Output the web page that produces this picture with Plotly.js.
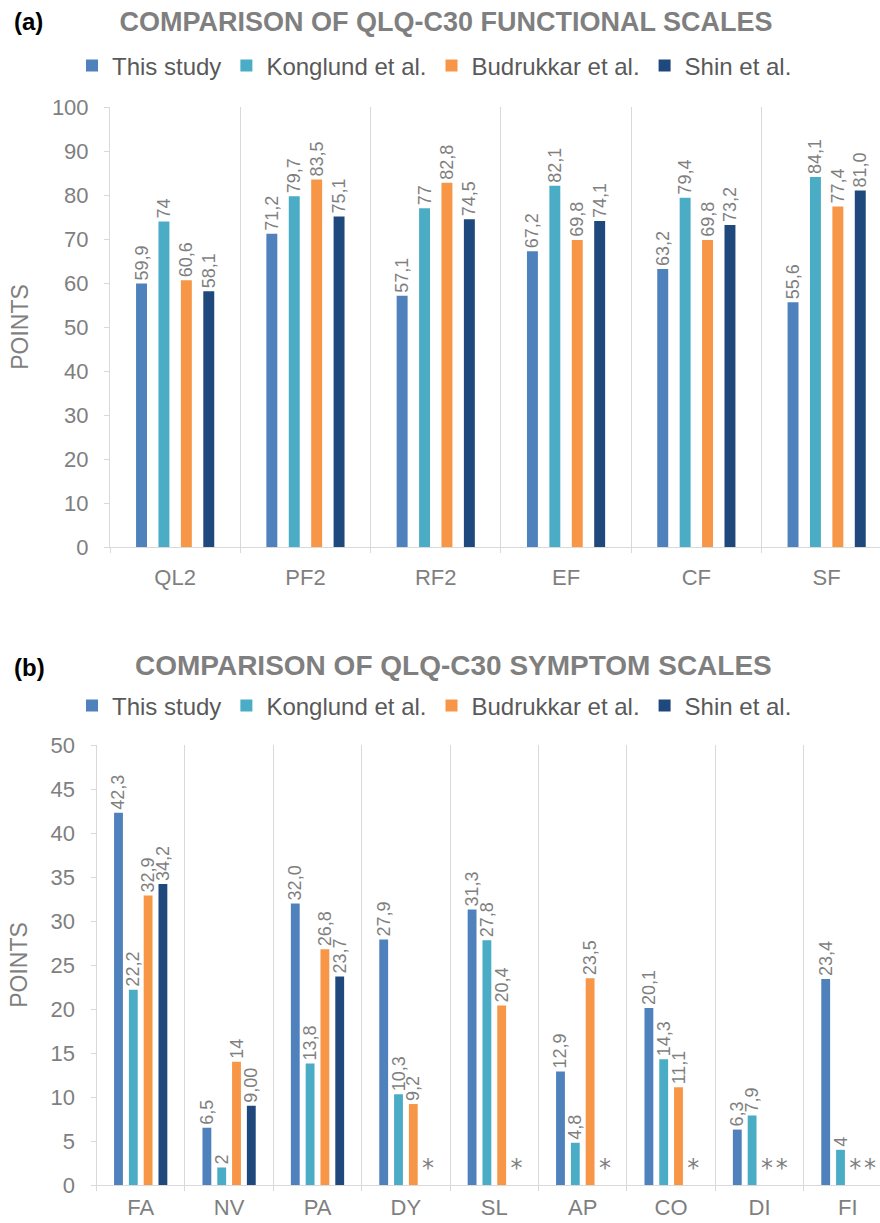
<!DOCTYPE html>
<html>
<head>
<meta charset="utf-8">
<script src="https://cdn.plot.ly/plotly-3.0.1.min.js"></script>
<style>
  html, body { margin: 0; padding: 0; background: #ffffff; }
  #chart { width: 880px; height: 1223px; }
</style>
</head>
<body>
<div id="chart"></div>
<script>
// ---------------- DATA ----------------
const seriesNames = ["This study", "Konglund et al.", "Budrukkar et al.", "Shin et al."];

// (a) functional scales
const catsA = ["QL2", "PF2", "RF2", "EF", "CF", "SF"];
const thisStudyA = [59.9, 71.2, 57.1, 67.2, 63.2, 55.6];
const konglundA  = [74, 79.7, 77, 82.1, 79.4, 84.1];
const budrukkarA = [60.6, 83.5, 82.8, 69.8, 69.8, 77.4];
const shinA      = [58.1, 75.1, 74.5, 74.1, 73.2, 81.0];
const thisStudyALabels = ["59,9", "71,2", "57,1", "67,2", "63,2", "55,6"];
const konglundALabels  = ["74", "79,7", "77", "82,1", "79,4", "84,1"];
const budrukkarALabels = ["60,6", "83,5", "82,8", "69,8", "69,8", "77,4"];
const shinALabels      = ["58,1", "75,1", "74,5", "74,1", "73,2", "81,0"];

// (b) symptom scales (null = not reported, shown as *)
const catsB = ["FA", "NV", "PA", "DY", "SL", "AP", "CO", "DI", "FI"];
const thisStudyB = [42.3, 6.5, 32.0, 27.9, 31.3, 12.9, 20.1, 6.3, 23.4];
const konglundB  = [22.2, 2, 13.8, 10.3, 27.8, 4.8, 14.3, 7.9, 4];
const budrukkarB = [32.9, 14, 26.8, 9.2, 20.4, 23.5, 11.1, null, null];
const shinB      = [34.2, 9.00, 23.7, null, null, null, null, null, null];
const thisStudyBLabels = ["42,3", "6,5", "32,0", "27,9", "31,3", "12,9", "20,1", "6,3", "23,4"];
const konglundBLabels  = ["22,2", "2", "13,8", "10,3", "27,8", "4,8", "14,3", "7,9", "4"];
const budrukkarBLabels = ["32,9", "14", "26,8", "9,2", "20,4", "23,5", "11,1", "", ""];
const shinBLabels      = ["34,2", "9,00", "23,7", "", "", "", "", "", ""];
const missingMark = "*";

// ---------------- STYLE ----------------
const colors = ["#4f81bd", "#4bacc6", "#f79646", "#1f497d"];
const FONT = "Liberation Sans, Arial, Helvetica, sans-serif";
const GRAY = "#7f7f7f";
const LINE = "#d9d9d9";
const W = 880, H = 1223;
const py = v => 1 - v / H;

const panelA = { cats: catsA, series: [thisStudyA, konglundA, budrukkarA, shinA],
  labels: [thisStudyALabels, konglundALabels, budrukkarALabels, shinALabels],
  slot: 0.172, width: 0.084, xa: "x", ya: "y", legend: "legend" };
const panelB = { cats: catsB, series: [thisStudyB, konglundB, budrukkarB, shinB],
  labels: [thisStudyBLabels, konglundBLabels, budrukkarBLabels, shinBLabels],
  slot: 0.1675, width: 0.10, xa: "x2", ya: "y2", legend: "legend2" };

const traces = [];
[panelA, panelB].forEach(p => {
  const missX = [], missOff = [];
  p.series.forEach((vals, i) => {
    const center = (i - 1.5) * p.slot;
    traces.push({
      type: "bar", name: seriesNames[i], x: p.cats, y: vals,
      xaxis: p.xa, yaxis: p.ya, legend: p.legend,
      offset: center - p.width / 2, width: p.width,
      marker: { color: colors[i], line: { width: 0 } },
      text: p.labels[i], textposition: "outside", textangle: -90,
      constraintext: "none",
      textfont: { family: FONT, size: 18, color: GRAY },
      cliponaxis: false, hoverinfo: "x+y+name"
    });
    vals.forEach((v, j) => { if (v === null) { missX.push(p.cats[j]); missOff.push(center - p.width / 2); } });
  });
  if (missX.length) {
    traces.push({
      type: "bar", x: missX, y: missX.map(() => 0), xaxis: p.xa, yaxis: p.ya,
      offset: missOff, width: p.width, showlegend: false,
      marker: { color: "rgba(0,0,0,0)" },
      text: missX.map(() => missingMark), textposition: "outside", textangle: 0,
      constraintext: "none",
      textfont: { family: "DejaVu Sans, sans-serif", size: 24, color: GRAY },
      cliponaxis: false, hoverinfo: "skip"
    });
  }
});

function xAxis(domainLeft, catW, standoff) {
  return {
    type: "category", domain: [domainLeft / W, 1],
    range: [-0.5, -0.5 + (W - domainLeft) / catW],
    tickson: "boundaries", showgrid: true, gridcolor: LINE, gridwidth: 1,
    showline: true, linecolor: LINE, linewidth: 1,
    ticks: "outside", ticklen: 5, tickcolor: LINE,
    tickfont: { family: FONT, size: 22, color: GRAY },
    ticklabelstandoff: standoff, automargin: false, fixedrange: true, zeroline: false
  };
}
function yAxis(top, bottom, maxV, step) {
  return {
    domain: [py(bottom), py(top)], range: [0, maxV], dtick: step, tick0: 0,
    showgrid: false, zeroline: false, showline: true, linecolor: LINE, linewidth: 1,
    ticks: "outside", ticklen: 5, tickcolor: LINE,
    tickfont: { family: FONT, size: 22, color: GRAY },
    ticklabelstandoff: 11, automargin: false, fixedrange: true,
    title: { text: "POINTS", font: { family: FONT, size: 23, color: GRAY }, standoff: 16 }
  };
}

const legendBase = {
  orientation: "h", xanchor: "left", yanchor: "middle",
  font: { family: FONT, size: 24, color: "#595959" },
  bgcolor: "rgba(0,0,0,0)", itemwidth: 30, traceorder: "normal"
};

const layout = {
  width: W, height: H, margin: { l: 0, r: 0, t: 0, b: 0 },
  paper_bgcolor: "#ffffff", plot_bgcolor: "#ffffff",
  barmode: "overlay", showlegend: true,
  font: { family: FONT, color: GRAY },
  title: { text: "<b>COMPARISON OF QLQ-C30 FUNCTIONAL SCALES</b>",
    x: 446 / W, xanchor: "center", xref: "paper", y: py(22), yanchor: "middle", yref: "paper",
    font: { family: FONT, size: 27, color: GRAY } },
  xaxis: xAxis(110, 130.3, 11), yaxis: yAxis(107, 547, 100, 10),
  xaxis2: Object.assign(xAxis(96.5, 88.4, 3), { anchor: "y2" }),
  yaxis2: Object.assign(yAxis(745, 1185, 50, 5), { anchor: "x2" }),
  legend: Object.assign({}, legendBase, { x: 72 / W, y: py(66) }),
  legend2: Object.assign({}, legendBase, { x: 72 / W, y: py(706) }),
  annotations: [
    { text: "<b>(a)</b>", x: 12 / W, y: py(21), xref: "paper", yref: "paper",
      xanchor: "left", yanchor: "middle", showarrow: false,
      font: { family: FONT, size: 24, color: "#000000" } },
    { text: "<b>(b)</b>", x: 12 / W, y: py(667), xref: "paper", yref: "paper",
      xanchor: "left", yanchor: "middle", showarrow: false,
      font: { family: FONT, size: 24, color: "#000000" } },
    { text: "<b>COMPARISON OF QLQ-C30 SYMPTOM SCALES</b>", x: 453 / W, y: py(665),
      xref: "paper", yref: "paper", xanchor: "center", yanchor: "middle", showarrow: false,
      font: { family: FONT, size: 28, color: GRAY } }
  ]
};
layout.xaxis.anchor = "y";
layout.yaxis.anchor = "x";

Plotly.newPlot("chart", traces, layout, { displayModeBar: false, staticPlot: true });
</script>
</body>
</html>
